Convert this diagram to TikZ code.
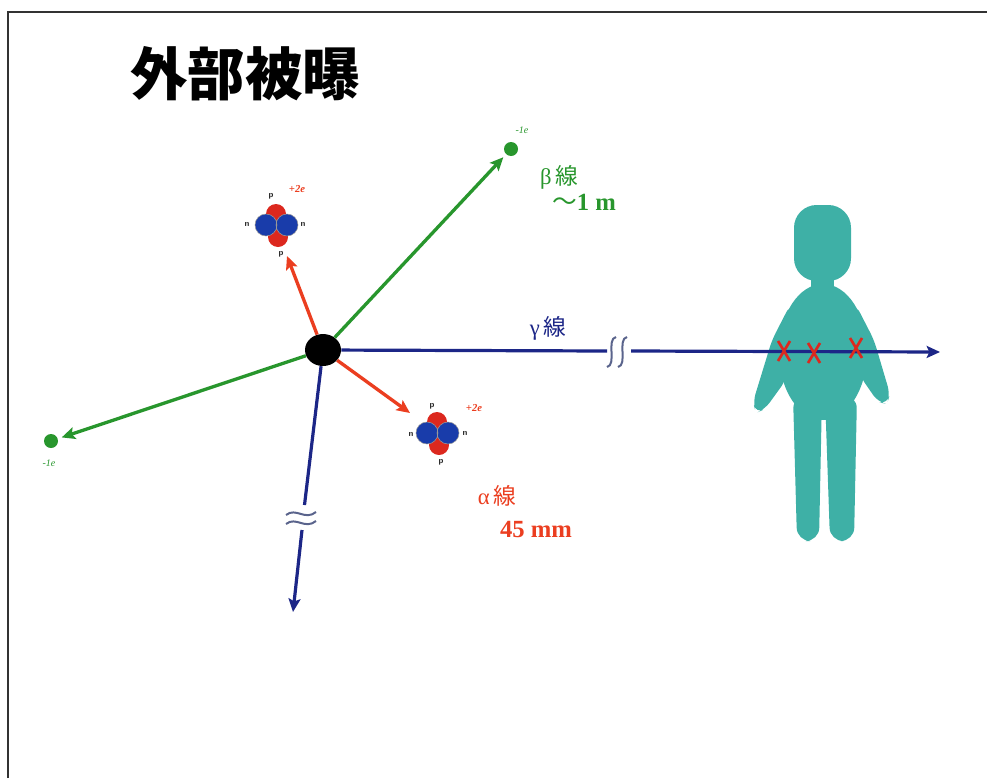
\documentclass[tikz,border=0pt]{standalone}
\usepackage{fontspec}
\setmainfont{Liberation Serif}
\newfontfamily\jp{Noto Sans CJK JP}
\usetikzlibrary{arrows.meta,shapes.geometric}

\definecolor{rayGreen}{RGB}{40,150,45}
\definecolor{rayRed}{RGB}{235,62,32}
\definecolor{rayBlue}{RGB}{28,38,135}
\definecolor{breakGray}{RGB}{90,100,140}
\definecolor{bodyTeal}{RGB}{62,176,166}
\definecolor{nucRed}{RGB}{220,40,30}
\definecolor{nucBlue}{RGB}{25,60,170}
\definecolor{frameGray}{RGB}{50,50,50}

\tikzset{
  tip/.style={-{Stealth[length=10pt,width=9pt,inset=2pt]}},
  betaray/.style={draw=rayGreen,line width=2.5pt,tip},
  alpharay/.style={draw=rayRed,line width=2.5pt,tip},
  gammaray/.style={draw=rayBlue,line width=2.4pt},
  breakmark/.style={draw=breakGray,line width=1.5pt},
  electron/.style={circle,fill=rayGreen,inner sep=0pt,minimum size=10.5pt},
  chg/.style={font=\fontsize{8}{9}\selectfont\bfseries\itshape,inner sep=0pt},
  nuc/.style={font=\fontsize{6.5}{7}\selectfont\bfseries\sffamily,inner sep=0pt,text=black!85},
  lbl/.style={font=\fontsize{17}{19}\selectfont,inner sep=0pt},
  lblbold/.style={font=\fontsize{18.5}{20}\selectfont\bfseries,inner sep=0pt},
  hitmark/.style={draw=nucRed,line width=2pt},
}

% helium nucleus: two protons (red) behind two neutrons (blue)
\newcommand{\heliumnucleus}[2]{%
  \begin{scope}[shift={(#1,#2)}]
    \fill[nucRed] (0,-11) circle [radius=10];
    \fill[nucRed] (2,12) circle [radius=10];
    \fill[nucBlue] (-10,0) circle [radius=11];
    \fill[nucBlue] (11,0) circle [radius=11];
    \draw[black!40,line width=0.4pt] (-10,0) circle [radius=11] (11,0) circle [radius=11];
  \end{scope}}

\begin{document}
\begin{tikzpicture}[x=0.75pt,y=-0.75pt]
\useasboundingbox (0,0) rectangle (987,778);

% frame
\draw[frameGray,line width=1.6pt] (8,778) -- (8,12) -- (987,12);

% title
\node[font=\jp\bfseries\fontsize{43}{48}\selectfont,inner sep=0pt] (title) at (245,74) {外部被曝};

% human figure
\begin{scope}[fill=bodyTeal]
  \fill[rounded corners=17pt] (794,205) rectangle (851,281);
  \fill (811,270) rectangle (834,292);
  \fill (823,352) ellipse [x radius=44, y radius=68];
  \fill[rounded corners=6pt] (790,305) -- (772,340) -- (753,402) -- (756,413) -- (765,409) -- (786,380) -- cycle;
  \fill[rounded corners=6pt] (856,305) -- (874,340) -- (890,394) -- (887,404) -- (878,402) -- (860,376) -- cycle;
  \fill[rounded corners=10pt] (793,395) -- (822,395) -- (819,541) -- (797,541) -- cycle;
  \fill[rounded corners=10pt] (825,395) -- (857,395) -- (854,541) -- (830,541) -- cycle;
\end{scope}

% source
\node[ellipse,fill=black,minimum width=27pt,minimum height=24pt,inner sep=0pt] (src) at (323,350) {};

% end points
\coordinate (gA) at (607,351);
\coordinate (gB) at (631,351);
\coordinate (gEnd) at (940,352);
\coordinate (dA) at (304.5,505);
\coordinate (dB) at (302,530);
\coordinate (dEnd) at (293,612);
\node[electron] (e1) at (511,149) {};
\node[electron] (e2) at (51,441) {};
\coordinate (a1) at (287,256);
\coordinate (a2) at (410,413);

% gamma rays
\draw[gammaray] (src) -- (gA);
\draw[breakmark] (616,337) .. controls (606,339) and (617,365) .. (607,367);
\draw[breakmark] (627,337) .. controls (617,339) and (628,365) .. (618,367);
\draw[gammaray,tip] (gB) -- (gEnd);

\draw[gammaray] (src) -- (dA);
\draw[breakmark] (286,515) .. controls (296,507) and (305,521) .. (316,512);
\draw[breakmark] (286,524) .. controls (296,516) and (305,530) .. (316,521);
\draw[gammaray,tip] (dB) -- (dEnd);

% beta rays
\draw[betaray,shorten >=3pt] (src) -- (e1);
\draw[betaray,shorten >=3pt] (src) -- (e2);

% alpha rays
\draw[alpharay] (src) -- (a1);
\draw[alpharay] (src) -- (a2);

% alpha particles
\heliumnucleus{276}{225}
\heliumnucleus{437}{433}
\node[nuc] (p1t) at (271,196) {p};
\node[nuc] (p1b) at (281,254) {p};
\node[nuc] (n1l) at (247,224) {n};
\node[nuc] (n1r) at (303,224) {n};
\node[chg,text=rayRed] (c1) at (297,189) {+2\textit{e}};
\node[nuc] (p2t) at (432,406) {p};
\node[nuc] (p2b) at (441,462) {p};
\node[nuc] (n2l) at (411,434) {n};
\node[nuc] (n2r) at (465,433) {n};
\node[chg,text=rayRed] (c2) at (474,408) {+2\textit{e}};

% electron charges
\node[chg,text=rayGreen,font=\fontsize{7.5}{8}\selectfont\itshape] (ce1) at (522,130) {-1\textit{e}};
\node[chg,text=rayGreen,font=\fontsize{7.5}{8}\selectfont\itshape] (ce2) at (49,463) {-1\textit{e}};

% ray labels
\node[lbl,text=rayGreen] (bl) at (559,177) {β\,{\jp 線}};
\node[lblbold,text=rayGreen] (br) at (584,202) {{\jp\mdseries ～}1 m};
\node[lbl,text=rayBlue] (gl) at (548,328) {γ\,{\jp 線}};
\node[lbl,text=rayRed] (al) at (497,496) {α\,{\jp 線}};
\node[lblbold,text=rayRed] (ar) at (536,529) {45 mm};

% absorption marks in the body
\draw[hitmark] (778,341) -- (790,361) (790,341) -- (778,361);
\draw[hitmark] (808,343) -- (820,363) (820,343) -- (808,363);
\draw[hitmark] (850,338) -- (862,358) (862,338) -- (850,358);
\end{tikzpicture}
\end{document}
